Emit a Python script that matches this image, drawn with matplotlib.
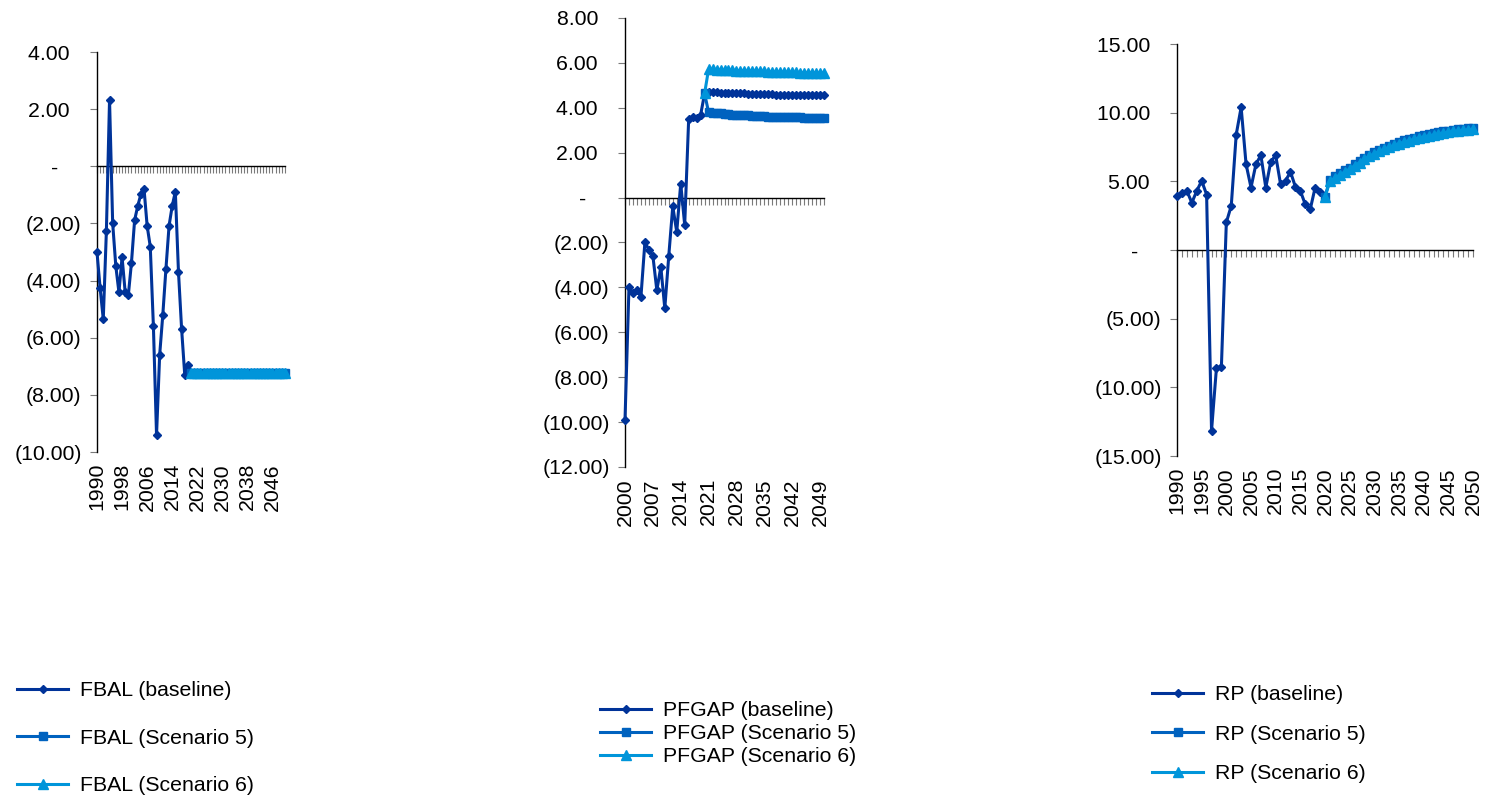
import matplotlib.pyplot as plt
from matplotlib.ticker import FixedLocator, FuncFormatter

plt.rcParams['font.family'] = ['Liberation Sans', 'DejaVu Sans']

C_BASE = '#003399'
C_S5 = '#0062BF'
C_S6 = '#0095DA'

# ---- FBAL ----
fbal_years = list(range(1990, 2051))
fbal_proj_years = list(range(2020, 2051))
fbal_hist = [-3.01, -4.27, -5.35, -2.25, 2.32, -1.99, -3.49, -4.41, -3.18, -4.41,
             -4.51, -3.37, -1.89, -1.39, -0.98, -0.78, -2.08, -2.81, -5.60, -9.41,
             -6.60, -5.20, -3.59, -2.08, -1.39, -0.89, -3.69, -5.69, -7.30, -6.95]
fbal_proj = [-7.22, -7.22, -7.22, -7.22, -7.22, -7.22, -7.22, -7.22, -7.22, -7.22,
             -7.22, -7.22, -7.22, -7.22, -7.22, -7.22, -7.22, -7.22, -7.22, -7.22,
             -7.22, -7.22, -7.22, -7.22, -7.22, -7.22, -7.22, -7.22, -7.22, -7.22,
             -7.22]
fbal_base = fbal_hist + fbal_proj
fbal_s5 = fbal_proj
fbal_s6 = fbal_proj
fbal_labels = [1990, 1998, 2006, 2014, 2022, 2030, 2038, 2046]

# ---- PFGAP ----
pfgap_years = list(range(2000, 2051))
pfgap_proj_years = list(range(2020, 2051))
pfgap_base = [-9.91, -3.98, -4.25, -4.13, -4.43, -1.99, -2.32, -2.59, -4.13, -3.09,
              -4.93, -2.59, -0.39, -1.53, 0.62, -1.22, 3.51, 3.60, 3.55, 3.68,
              4.64, 4.70, 4.69, 4.69, 4.68, 4.67, 4.67, 4.66, 4.65, 4.65,
              4.64, 4.63, 4.63, 4.62, 4.61, 4.61, 4.60, 4.60, 4.59, 4.59,
              4.58, 4.58, 4.57, 4.57, 4.57, 4.56, 4.56, 4.56, 4.55, 4.55, 4.55]
pfgap_s5 = [4.64, 3.80, 3.78, 3.76, 3.75, 3.73, 3.72, 3.70, 3.69, 3.68, 3.67,
            3.66, 3.65, 3.64, 3.63, 3.62, 3.61, 3.61, 3.60, 3.59, 3.59,
            3.58, 3.58, 3.57, 3.57, 3.56, 3.56, 3.56, 3.55, 3.55, 3.55]
pfgap_s6 = [4.64, 5.72, 5.71, 5.70, 5.69, 5.69, 5.68, 5.67, 5.66, 5.66, 5.65,
            5.64, 5.64, 5.63, 5.62, 5.62, 5.61, 5.61, 5.60, 5.60, 5.59,
            5.59, 5.58, 5.58, 5.57, 5.57, 5.57, 5.56, 5.56, 5.56, 5.55]
pfgap_labels = [2000, 2007, 2014, 2021, 2028, 2035, 2042, 2049]

# ---- RP ----
rp_years = list(range(1990, 2021))
rp_proj_years = list(range(2020, 2051))
rp_base = [3.92, 4.12, 4.31, 3.44, 4.29, 5.04, 4.04, -13.16, -8.57, -8.50,
           2.01, 3.22, 8.40, 10.39, 6.25, 4.55, 6.25, 6.90, 4.55, 6.42,
           6.90, 4.77, 5.04, 5.69, 4.60, 4.31, 3.32, 2.95, 4.55, 4.24, 3.88]
rp_s5 = [3.88, 5.13, 5.36, 5.58, 5.80, 6.00, 6.26, 6.49, 6.72, 6.94, 7.14,
         7.30, 7.45, 7.60, 7.74, 7.87, 7.98, 8.08, 8.18, 8.27, 8.36,
         8.43, 8.50, 8.58, 8.64, 8.70, 8.75, 8.79, 8.83, 8.87, 8.91]
rp_s6 = [3.88, 5.01, 5.24, 5.46, 5.68, 5.88, 6.14, 6.37, 6.60, 6.82, 7.02,
         7.18, 7.33, 7.48, 7.62, 7.75, 7.86, 7.96, 8.06, 8.15, 8.24,
         8.31, 8.38, 8.46, 8.52, 8.58, 8.63, 8.67, 8.71, 8.75, 8.79]
rp_labels = list(range(1990, 2051, 5))

FS = 15.3
W, H = 1486, 797
fig = plt.figure(figsize=(W / 100, H / 100), dpi=100)


def acct(v, pos=None):
    if abs(v) < 1e-9:
        return '-    '
    if v > 0:
        return f'{v:.2f}  '
    return f'({-v:.2f})'


def panel(rect, name, series, x0, x1, ylim, yticks, xlabels, leg_xy, leg_space):
    l, t, r, b = rect
    ax = fig.add_axes([l / W, 1 - b / H, (r - l) / W, (b - t) / H])
    styles = [(C_BASE, 'D', 4.5, 'baseline'),
              (C_S5, 's', 6, 'Scenario 5'),
              (C_S6, '^', 7.5, 'Scenario 6')]
    for (xs, ys), (c, m, ms, lab) in zip(series, styles):
        ax.plot(xs, ys, color=c, lw=2.2, marker=m, ms=ms, mec=c, mfc=c,
                label=f'{name} ({lab})', clip_on=False, zorder=3)
    ax.set_xlim(x0, x1)
    ax.set_ylim(*ylim)
    ax.spines[['top', 'right']].set_visible(False)
    ax.spines['bottom'].set_position(('data', 0))
    ax.spines['bottom'].set_linewidth(1.0)
    ax.spines['left'].set_linewidth(1.0)
    ax.xaxis.set_major_locator(FixedLocator(list(range(x0, x1 + 1))))
    ax.tick_params(axis='x', direction='out', length=5, width=0.8,
                   color='#7a7a7a', labelbottom=False)
    ax.yaxis.set_major_locator(FixedLocator(yticks))
    ax.yaxis.set_major_formatter(FuncFormatter(acct))
    ax.tick_params(axis='y', direction='out', length=5, width=0.8,
                   color='#7a7a7a', labelsize=FS, pad=6)
    sec = ax.secondary_xaxis(0)
    sec.set_xticks(xlabels)
    sec.set_xticklabels([str(y) for y in xlabels], rotation=90, fontsize=FS)
    sec.tick_params(length=0, pad=8)
    sec.spines['bottom'].set_visible(False)
    ax.legend(loc='upper left', bbox_to_anchor=(leg_xy[0] / W, 1 - leg_xy[1] / H),
              bbox_transform=fig.transFigure, frameon=False, fontsize=FS,
              borderpad=0, borderaxespad=0, handlelength=2.4,
              handletextpad=0.55, labelspacing=leg_space)
    return ax


panel((97, 52, 285, 452), 'FBAL',
      [(fbal_years, fbal_base), (fbal_proj_years, fbal_s5), (fbal_proj_years, fbal_s6)],
      1990, 2050, (-10, 4), [4, 2, 0, -2, -4, -6, -8, -10], fbal_labels,
      (17, 681), 1.35)

panel((625, 18, 824, 467), 'PFGAP',
      [(pfgap_years, pfgap_base), (pfgap_proj_years, pfgap_s5), (pfgap_proj_years, pfgap_s6)],
      2000, 2050, (-12, 8), [8, 6, 4, 2, 0, -2, -4, -6, -8, -10, -12], pfgap_labels,
      (600, 701), 0.2)

panel((1177, 44, 1473, 456), 'RP',
      [(rp_years, rp_base), (rp_proj_years, rp_s5), (rp_proj_years, rp_s6)],
      1990, 2050, (-15, 15), [15, 10, 5, 0, -5, -10, -15], rp_labels,
      (1152, 685), 0.97)

fig.savefig('out.png', dpi=100)
